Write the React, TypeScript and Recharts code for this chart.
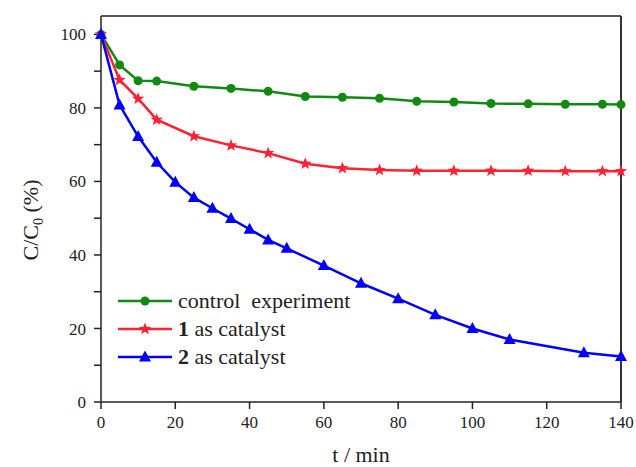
import React from 'react';
import { LineChart, Line, XAxis, YAxis, ReferenceLine } from 'recharts';

const controlT = [0, 5, 10, 15, 25, 35, 45, 55, 65, 75, 85, 95, 105, 115, 125, 135, 140];
const controlC = [100, 91.7, 87.4, 87.3, 85.9, 85.3, 84.5, 83.1, 82.9, 82.6, 81.8, 81.6, 81.2, 81.1, 81.0, 81.0, 80.9];

const cat1T = [0, 5, 10, 15, 25, 35, 45, 55, 65, 75, 85, 95, 105, 115, 125, 135, 140];
const cat1C = [100, 87.6, 82.5, 76.8, 72.3, 69.8, 67.7, 64.8, 63.6, 63.1, 62.9, 62.9, 62.9, 62.9, 62.8, 62.8, 62.8];

const cat2T = [0, 5, 10, 15, 20, 25, 30, 35, 40, 45, 50, 60, 70, 80, 90, 100, 110, 130, 140];
const cat2C = [100, 80.8, 72.2, 65.2, 59.8, 55.6, 52.7, 49.9, 47.0, 44.1, 41.8, 37.1, 32.3, 28.1, 23.7, 20.0, 17.0, 13.4, 12.4];

const xTicks = [0, 20, 40, 60, 80, 100, 120, 140];
const yTicks = [0, 10, 20, 30, 40, 50, 60, 70, 80, 90, 100];

const GREEN = '#118a11';
const RED = '#ff2233';
const BLUE = '#0000ff';
const FONT = 'Liberation Serif';

const toRows = (t: number[], c: number[]) => t.map((x, i) => ({ t: x, c: c[i] }));
const controlData = toRows(controlT, controlC);
const cat1Data = toRows(cat1T, cat1C);
const cat2Data = toRows(cat2T, cat2C);

const starPoints = (cx: number, cy: number, R: number) => {
  const r = R * 0.42;
  const pts: string[] = [];
  for (let i = 0; i < 10; i++) {
    const a = -Math.PI / 2 + (i * Math.PI) / 5;
    const rad = i % 2 === 0 ? R : r;
    pts.push(`${cx + rad * Math.cos(a)},${cy + rad * Math.sin(a)}`);
  }
  return pts.join(' ');
};

const Circle = (cx: number, cy: number, key?: any) => (
  <circle key={key} cx={cx} cy={cy} r={4.5} fill={GREEN} stroke="none" />
);
const Star = (cx: number, cy: number, key?: any) => (
  <polygon key={key} points={starPoints(cx, cy, 6.5)} fill={RED} stroke="none" />
);
const Tri = (cx: number, cy: number, key?: any) => (
  <polygon
    key={key}
    points={`${cx},${cy - 6.5} ${cx + 6},${cy + 4.5} ${cx - 6},${cy + 4.5}`}
    fill={BLUE}
    stroke="none"
  />
);

const legendItems = [
  { bold: '', text: 'control  experiment', color: GREEN, mark: Circle },
  { bold: '1', text: ' as catalyst', color: RED, mark: Star },
  { bold: '2', text: ' as catalyst', color: BLUE, mark: Tri },
];

const tickStyle = { fontFamily: FONT, fontSize: 17, fill: '#222' };

export default function App() {
  return (
    <div style={{ position: 'absolute', left: 0, top: 0, width: 636, height: 467, background: '#fff', fontFamily: FONT }}>
      <LineChart width={636} height={467} margin={{ top: 16, right: 15, bottom: 0, left: 0 }}>
        <XAxis
          dataKey="t"
          type="number"
          domain={[0, 140]}
          ticks={xTicks}
          allowDuplicatedCategory={false}
          height={65}
          tickSize={7}
          tickMargin={7}
          stroke="#222"
          strokeWidth={1.5}
          tick={tickStyle}
          interval={0}
        />
        <YAxis
          type="number"
          domain={[0, 105]}
          ticks={yTicks}
          width={101}
          tickSize={7}
          tickMargin={8}
          stroke="#222"
          strokeWidth={1.5}
          tick={tickStyle}
          interval={0}
          tickFormatter={(v: number) => (v % 20 === 0 ? String(v) : '')}
        />
        <ReferenceLine y={105} stroke="#222" strokeWidth={1.5} />
        <ReferenceLine x={140} stroke="#333" strokeWidth={2} />
        <Line
          data={controlData}
          dataKey="c"
          stroke={GREEN}
          strokeWidth={2.5}
          isAnimationActive={false}
          dot={(p: any) => Circle(p.cx, p.cy, p.key ?? `g${p.index}`)}
        />
        <Line
          data={cat1Data}
          dataKey="c"
          stroke={RED}
          strokeWidth={2.5}
          isAnimationActive={false}
          dot={(p: any) => Star(p.cx, p.cy, p.key ?? `r${p.index}`)}
        />
        <Line
          data={cat2Data}
          dataKey="c"
          stroke={BLUE}
          strokeWidth={2.5}
          isAnimationActive={false}
          dot={(p: any) => Tri(p.cx, p.cy, p.key ?? `b${p.index}`)}
        />
      </LineChart>
      <svg
        width={636}
        height={467}
        style={{ position: 'absolute', left: 0, top: 0, pointerEvents: 'none' }}
      >
        <text
          transform="translate(38,220) rotate(-90)"
          textAnchor="middle"
          fontFamily={FONT}
          fontSize={22}
          fill="#222"
        >
          C/C<tspan dy={5} fontSize={14}>0</tspan>
          <tspan dy={-5}> (%)</tspan>
        </text>
        <text x={361} y={462} textAnchor="middle" fontFamily={FONT} fontSize={22} fill="#222">
          t / min
        </text>
        {legendItems.map((it, i) => {
          const y = 301 + i * 28;
          return (
            <g key={it.text + i}>
              <line x1={118} x2={172} y1={y} y2={y} stroke={it.color} strokeWidth={2.5} />
              {it.mark(145, y)}
              <text x={178} y={y + 7} fontFamily={FONT} fontSize={22} fill="#222" xmlSpace="preserve">
                {it.bold ? <tspan fontWeight="bold">{it.bold}</tspan> : null}
                {it.text}
              </text>
            </g>
          );
        })}
      </svg>
    </div>
  );
}
